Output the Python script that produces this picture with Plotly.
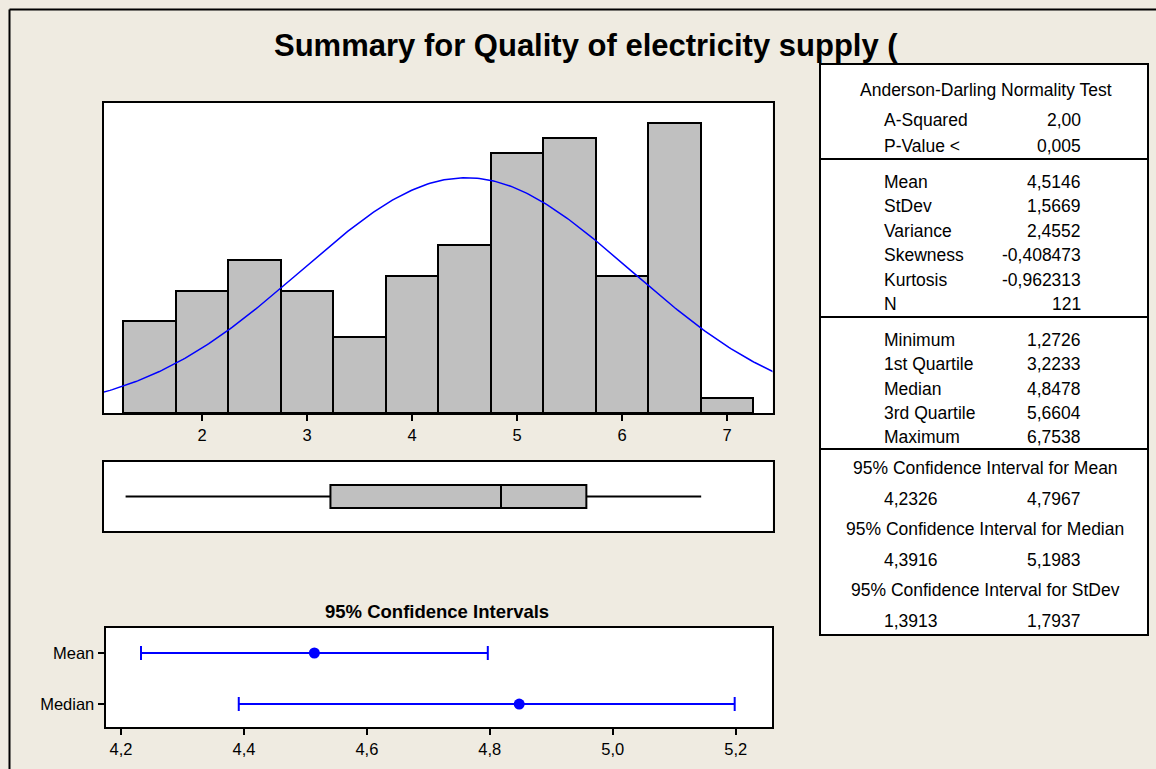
import numpy as np
import plotly.graph_objects as go

W, H = 1156, 769

# histogram of the 121 observations (bin width 0.5)
bin_centers = [1.5, 2.0, 2.5, 3.0, 3.5, 4.0, 4.5, 5.0, 5.5, 6.0, 6.5, 7.0]
bin_counts = [6, 8, 10, 8, 5, 9, 11, 17, 18, 9, 19, 1]
bin_width = 0.5

# descriptive statistics
n_obs = 121
mean_val = 4.5146
stdev_val = 1.5669
minimum = 1.2726
q1 = 3.2233
median_val = 4.8478
q3 = 5.6604
maximum = 6.7538

# 95% confidence intervals
ci_labels = ["Mean", "Median"]
ci_centers = [4.5146, 4.8478]
ci_low = [4.2326, 4.3916]
ci_high = [4.7967, 5.1983]

# stats table rows (label, value)
ad_rows = [("A-Squared", "2,00"), ("P-Value <", "0,005")]
desc_rows = [("Mean", "4,5146"), ("StDev", "1,5669"), ("Variance", "2,4552"),
             ("Skewness", "-0,408473"), ("Kurtosis", "-0,962313"), ("N", "121")]
quart_rows = [("Minimum", "1,2726"), ("1st Quartile", "3,2233"), ("Median", "4,8478"),
              ("3rd Quartile", "5,6604"), ("Maximum", "6,7538")]
ci_rows = [("95% Confidence Interval for Mean", "4,2326", "4,7967"),
           ("95% Confidence Interval for Median", "4,3916", "5,1983"),
           ("95% Confidence Interval for StDev", "1,3913", "1,7937")]


def px(x):
    return x / W


def py(y):
    return 1 - y / H


BG = "#EFEBE1"
NARROW = "Liberation Sans Narrow, Arial Narrow, Liberation Sans, sans-serif"
SANS = "Liberation Sans, Arial, sans-serif"

fig = go.Figure()

fig.add_trace(go.Bar(
    x=bin_centers, y=bin_counts, width=bin_width,
    marker=dict(color="#C0C0C0", line=dict(color="black", width=2)),
    xaxis="x", yaxis="y", showlegend=False,
))

# fitted normal curve scaled to counts
xs = np.linspace(0.9, 7.6, 300)
ys = n_obs * bin_width * np.exp(-0.5 * ((xs - mean_val) / stdev_val) ** 2) / (stdev_val * np.sqrt(2 * np.pi))
fig.add_trace(go.Scatter(x=xs, y=ys, mode="lines", line=dict(color="#0000FF", width=1.5),
                         xaxis="x", yaxis="y", showlegend=False))

fig.add_trace(go.Box(
    y=[0], q1=[q1], median=[median_val], q3=[q3],
    lowerfence=[minimum], upperfence=[maximum],
    orientation="h", width=1, whiskerwidth=0,
    fillcolor="#C0C0C0", line=dict(color="black", width=2),
    xaxis="x2", yaxis="y2", showlegend=False, boxpoints=False,
))

fig.add_trace(go.Scatter(
    x=ci_centers, y=[1, 0], mode="markers",
    marker=dict(color="#0000FF", size=11),
    error_x=dict(type="data", symmetric=False,
                 array=[h - c for h, c in zip(ci_high, ci_centers)],
                 arrayminus=[c - l for c, l in zip(ci_centers, ci_low)],
                 color="#0000FF", thickness=2, width=7),
    xaxis="x3", yaxis="y3", showlegend=False,
))

frame = dict(showline=True, mirror=True, linecolor="black", linewidth=2,
             showgrid=False, zeroline=False)
tick_style = dict(ticks="outside", ticklen=6, tickwidth=1.5, tickcolor="black",
                  tickfont=dict(family=NARROW, size=16.5, color="black"))

fig.update_layout(
    width=W, height=H,
    margin=dict(l=0, r=0, t=0, b=0),
    paper_bgcolor=BG, plot_bgcolor="white",
    bargap=0,
    xaxis=dict(domain=[px(104), px(772.5)], range=[1.067, 7.433], anchor="y",
               tickvals=[2, 3, 4, 5, 6, 7], **frame, **tick_style),
    yaxis=dict(domain=[py(413), py(103)], range=[0, 20.3], anchor="x",
               showticklabels=False, ticks="", **frame),
    xaxis2=dict(domain=[px(104), px(772.5)], range=[1.067, 7.433], anchor="y2",
                showticklabels=False, ticks="", **frame),
    yaxis2=dict(domain=[py(531), py(462)], range=[-1.5, 1.5], anchor="x2",
                showticklabels=False, ticks="", **frame),
    xaxis3=dict(domain=[px(105.6), px(772)], range=[4.175, 5.259], anchor="y3",
                tickvals=[4.2, 4.4, 4.6, 4.8, 5.0, 5.2],
                ticktext=["4,2", "4,4", "4,6", "4,8", "5,0", "5,2"], **frame, **tick_style),
    yaxis3=dict(domain=[py(727), py(628)], range=[-0.45, 1.49], anchor="x3",
                tickvals=[1, 0], ticktext=ci_labels, **frame, **tick_style),
)

shapes = [
    # outer frame (left and top edges)
    dict(type="line", xref="paper", yref="paper", x0=px(9.5), x1=px(9.5), y0=-0.05, y1=py(9.5),
         line=dict(color="black", width=2)),
    dict(type="line", xref="paper", yref="paper", x0=px(9.5), x1=1.05, y0=py(9.5), y1=py(9.5),
         line=dict(color="black", width=2)),
    # stats table
    dict(type="rect", xref="paper", yref="paper", x0=px(820), x1=px(1148), y0=py(635), y1=py(64),
         line=dict(color="black", width=2), fillcolor="white", layer="below"),
]
for yl in [159, 317, 449]:
    shapes.append(dict(type="line", xref="paper", yref="paper", x0=px(820), x1=px(1148),
                       y0=py(yl), y1=py(yl), line=dict(color="black", width=2)))
fig.update_layout(shapes=shapes)

ann = []


def text(x, y, s, anchor="center", size=17.5, family=SANS, bold=False):
    ann.append(dict(xref="paper", yref="paper", x=px(x), y=py(y), text=f"<b>{s}</b>" if bold else s,
                    showarrow=False, xanchor=anchor, yanchor="middle",
                    font=dict(family=family, size=size, color="black")))


text(586, 46, "Summary for Quality of electricity supply (", size=31, bold=True)
text(437, 611, "95% Confidence Intervals", size=18.5, bold=True)

text(986, 90, "Anderson-Darling Normality Test")
for i, (lab, val) in enumerate(ad_rows):
    y = 120 + i * 25.5
    text(882, y, lab, "left")
    text(1083, y, val, "right")
for i, (lab, val) in enumerate(desc_rows):
    y = 182 + i * 24.4
    text(882, y, lab, "left")
    text(1083, y, val, "right")
for i, (lab, val) in enumerate(quart_rows):
    y = 340 + i * 24.3
    text(882, y, lab, "left")
    text(1083, y, val, "right")
for i, (lab, lo, hi) in enumerate(ci_rows):
    y = 468 + i * 61
    text(985, y, lab)
    text(882, y + 31, lo, "left")
    text(1083, y + 31, hi, "right")

fig.update_layout(annotations=ann)

# drop the default page margin so the figure fills the window exactly
fig.write_html("out.html", config={"displayModeBar": False},
               post_script="document.body.style.margin='0';"
                           "document.body.style.overflow='hidden';")
